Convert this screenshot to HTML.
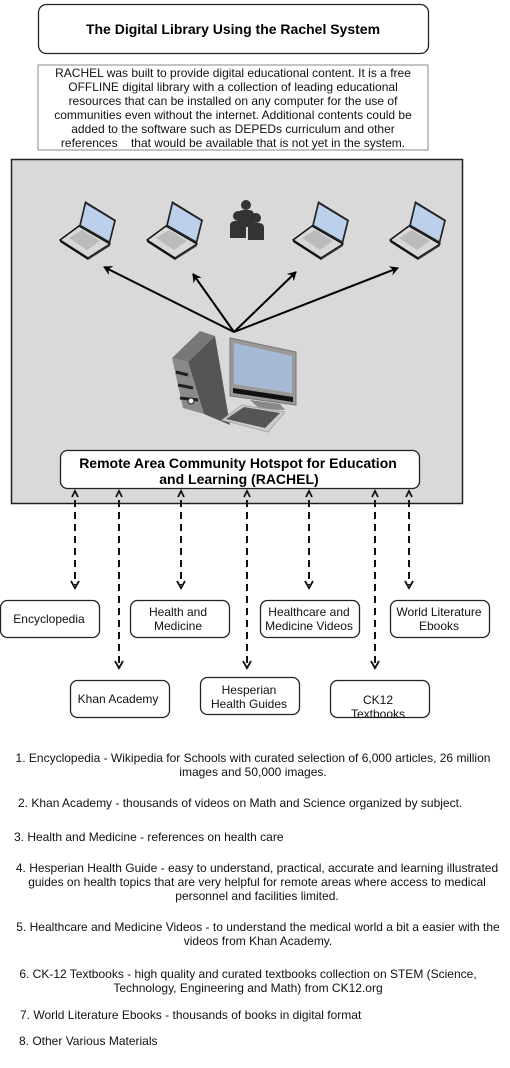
<!DOCTYPE html>
<html><head><meta charset="utf-8"><style>
html,body{margin:0;padding:0;background:#fff;}
svg{display:block;font-family:"Liberation Sans",Arial,sans-serif;}
</style></head><body>
<svg width="510" height="1068" viewBox="0 0 510 1068" xmlns="http://www.w3.org/2000/svg">
<defs>
<marker id="ah" markerWidth="10" markerHeight="10" refX="8" refY="5" orient="auto" markerUnits="userSpaceOnUse"><path d="M0,0 L9,5 L0,10 L3,5 Z" fill="#000"/></marker>
<g id="lap">
  <path d="M0,40 L19,26 L50,44 L28,58 Z" fill="#d8d8d8" stroke="#111" stroke-width="1.5" stroke-linejoin="round"/>
  <path d="M0,40 L28,58 L28,60 L0,42 Z" fill="#111"/>
  <path d="M28,58 L50,44 L50,46 L28,60 Z" fill="#333"/>
  <path d="M9,38 L22,30 L40,41 L27,50 Z" fill="#bbb"/>
  <path d="M19,26 L25,1 L56,20 L50,44 Z" fill="#222"/>
  <path d="M21,25 L26,4 L54,21 L49,41 Z" fill="#bcd0ec"/>
</g>
<g id="per">
  <circle cx="0" cy="0" r="5" fill="#333"/>
  <path d="M-8,22 L-8,10 Q-8,5 -3,5 L3,5 Q8,5 8,10 L8,22 Z" fill="#333"/>
</g>
</defs>

<rect x="38.5" y="4.5" width="390" height="49" rx="8" fill="#fff" stroke="#222" stroke-width="1.3"/>
<text x="233" y="34" font-size="14" font-weight="bold" text-anchor="middle">The Digital Library Using the Rachel System</text>

<rect x="38" y="65" width="390" height="85" fill="#fff" stroke="#888" stroke-width="1"/>
<g font-size="12" text-anchor="middle" fill="#111">
<text x="233" y="77">RACHEL was built to provide digital educational content. It is a free</text>
<text x="233" y="91">OFFLINE digital library with a collection of leading educational</text>
<text x="233" y="105">resources that can be installed on any computer for the use of</text>
<text x="233" y="119">communities even without the internet. Additional contents could be</text>
<text x="233" y="133">added to the software such as DEPEDs curriculum and other</text>
<text x="233" y="147" xml:space="preserve">references    that would be available that is not yet in the system.</text>
</g>

<rect x="11.5" y="159.5" width="451" height="344" fill="#d9d9d9" stroke="#222" stroke-width="1.5"/>

<use href="#lap" x="60" y="200"/>
<use href="#lap" x="147" y="200"/>
<use href="#lap" x="293" y="200"/>
<use href="#lap" x="390" y="200"/>
<use href="#per" x="246" y="205"/>
<use href="#per" x="238" y="216"/>
<use href="#per" x="256" y="218"/>

<g stroke="#000" stroke-width="2" fill="none" marker-end="url(#ah)">
<line x1="234" y1="332" x2="104" y2="267"/>
<line x1="234" y1="332" x2="193" y2="274"/>
<line x1="234" y1="332" x2="296" y2="272"/>
<line x1="234" y1="332" x2="398" y2="268"/>
</g>

<path d="M172,358 L200,331 L215,336 L188,362 Z" fill="#777"/>
<path d="M188,362 L215,336 L230,425 L204,414 Z" fill="#555"/>
<path d="M172,358 L188,362 L204,414 L183,408 Z" fill="#8a8a8a"/>
<path d="M176,372 L188,375 M178,385 L193,388 M180,398 L198,400" stroke="#222" stroke-width="3"/>
<circle cx="191" cy="401" r="3" fill="#eee" stroke="#222"/>
<path d="M230,338 L296,352 L296,405 L230,396 Z" fill="#999" stroke="#777"/>
<path d="M234,343 L292,356 L292,393 L234,384 Z" fill="#a7bad3"/>
<path d="M233,388 L293,397 L293,402 L233,393 Z" fill="#111"/>
<path d="M250,400 L280,404 L285,410 L260,409 Z" fill="#888"/>
<path d="M222,420 L242,405 L285,412 L268,432 Z" fill="#ccc" stroke="#aaa"/>
<path d="M226,419 L244,407 L280,413 L265,428 Z" fill="#555"/>

<rect x="60.5" y="450.5" width="359" height="38" rx="7" fill="#fff" stroke="#222" stroke-width="1.3"/>
<g font-size="14" font-weight="bold" text-anchor="middle">
<text x="238" y="468">Remote Area Community Hotspot for Education</text>
<text x="239" y="484">and Learning (RACHEL)</text>
</g>

<g stroke="#111" stroke-width="2" fill="none">
<g stroke-dasharray="7,5">
<line x1="75" y1="500" x2="75" y2="585"/>
<line x1="119" y1="500" x2="119" y2="665"/>
<line x1="181" y1="500" x2="181" y2="585"/>
<line x1="247" y1="500" x2="247" y2="665"/>
<line x1="309" y1="500" x2="309" y2="585"/>
<line x1="375" y1="500" x2="375" y2="665"/>
<line x1="409" y1="500" x2="409" y2="585"/>
</g>
<g stroke-width="1.8">
<path d="M72,497 L75,491 L78,497 M116,497 L119,491 L122,497 M178,497 L181,491 L184,497 M244,497 L247,491 L250,497 M306,497 L309,491 L312,497 M372,497 L375,491 L378,497 M406,497 L409,491 L412,497"/>
<path d="M71,581 L75,588 L79,581 M177,581 L181,588 L185,581 M305,581 L309,588 L313,581 M405,581 L409,588 L413,581"/>
<path d="M115,661 L119,668 L123,661 M243,661 L247,668 L251,661 M371,661 L375,668 L379,661"/>
</g>
</g>

<g fill="#fff" stroke="#222" stroke-width="1.3">
<rect x="0.5" y="600.5" width="99" height="37" rx="7"/>
<rect x="130.5" y="600.5" width="99" height="37" rx="7"/>
<rect x="260.5" y="600.5" width="99" height="37" rx="7"/>
<rect x="390.5" y="600.5" width="99" height="37" rx="7"/>
<rect x="70.5" y="680.5" width="99" height="37" rx="7"/>
<rect x="200.5" y="677.5" width="99" height="37" rx="7"/>
<rect x="330.5" y="680.5" width="99" height="37" rx="7"/>
</g>
<g font-size="12" text-anchor="middle" fill="#111">
<text x="49" y="623">Encyclopedia</text>
<text x="178" y="616">Health and</text><text x="178" y="630">Medicine</text>
<text x="309" y="616">Healthcare and</text><text x="309" y="630">Medicine Videos</text>
<text x="439" y="616">World Literature</text><text x="439" y="630">Ebooks</text>
<text x="118" y="703">Khan Academy</text>
<text x="249" y="694">Hesperian</text><text x="249" y="708">Health Guides</text>
<text x="378" y="704">CK12</text><text x="378" y="718">Textbooks</text>
</g>

<g font-size="12" fill="#111">
<text x="253" y="762" text-anchor="middle">1. Encyclopedia - Wikipedia for Schools with curated selection of 6,000 articles, 26 million</text>
<text x="253" y="776" text-anchor="middle">images and 50,000 images.</text>
<text x="18" y="807">2. Khan Academy - thousands of videos on Math and Science organized by subject.</text>
<text x="14" y="841">3. Health and Medicine - references on health care</text>
<text x="257" y="872" text-anchor="middle">4. Hesperian Health Guide - easy to understand, practical, accurate and learning illustrated</text>
<text x="257" y="886" text-anchor="middle">guides on health topics that are very helpful for remote areas where access to medical</text>
<text x="257" y="900" text-anchor="middle">personnel and facilities limited.</text>
<text x="258" y="931" text-anchor="middle">5. Healthcare and Medicine Videos - to understand the medical world a bit a easier with the</text>
<text x="258" y="945" text-anchor="middle">videos from Khan Academy.</text>
<text x="248" y="978" text-anchor="middle">6. CK-12 Textbooks - high quality and curated textbooks collection on STEM (Science,</text>
<text x="248" y="992" text-anchor="middle">Technology, Engineering and Math) from CK12.org</text>
<text x="20" y="1019">7. World Literature Ebooks - thousands of books in digital format</text>
<text x="19" y="1045">8. Other Various Materials</text>
</g>
</svg>
</body></html>
